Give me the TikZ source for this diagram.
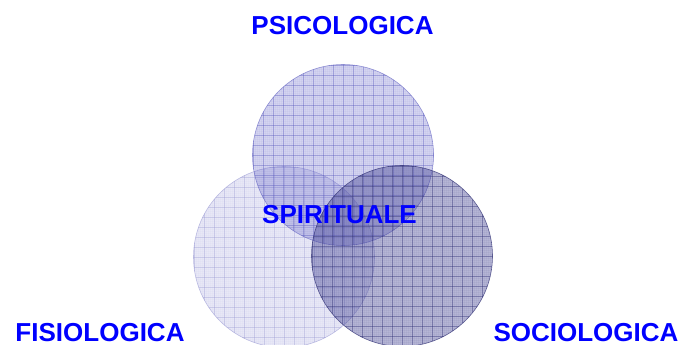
\documentclass[tikz,border=0pt]{standalone}
\usepackage{fontspec}
\setmainfont{Liberation Sans}
\usetikzlibrary{calc}
\begin{document}
\begin{tikzpicture}[x=1pt,y=1pt,
  lbl/.style={font=\fontsize{26}{28}\selectfont\bfseries, text=blue, inner sep=0pt, anchor=base},
]
\useasboundingbox (0,0) rectangle (682,345);
\definecolor{cTop}{RGB}{100,100,200}
\definecolor{cLeft}{RGB}{150,150,215}
\definecolor{cRight}{RGB}{70,70,150}
\definecolor{gTop}{RGB}{90,90,190}
\definecolor{gLeft}{RGB}{150,150,210}
\definecolor{gRight}{RGB}{40,40,110}
% y measured from bottom: y = 345 - yimg
\coordinate (L) at (284,88);
\coordinate (T) at (343,190);
\coordinate (R) at (402,89);
\def\rad{90.5}
\newcommand\gridin[3]{% center, color, opacity
  \begin{scope}
  \clip (#1) circle (\rad);
  \foreach \k in {-48,...,48} {
    \draw[#2, opacity=#3*0.12, line width=0.25pt] ($(#1)+(\k*2,-92)$) -- ++(0,184);
    \draw[#2, opacity=#3*0.12, line width=0.25pt] ($(#1)+(-92,\k*2)$) -- ++(184,0);
  }
  \foreach \k in {-9,...,9} {
    \draw[#2, opacity=#3, line width=0.6pt] ($(#1)+(\k*10,-92)$) -- ++(0,184);
    \draw[#2, opacity=#3, line width=0.6pt] ($(#1)+(-92,\k*10)$) -- ++(184,0);
  }
  \end{scope}}
% left circle
\fill[cLeft, opacity=0.22] (L) circle (\rad);
\gridin{L}{gLeft}{0.35}
\draw[gLeft, opacity=0.6, line width=0.6pt] (L) circle (\rad);
% top circle
\fill[cTop, opacity=0.28] (T) circle (\rad);
\gridin{T}{gTop}{0.38}
\draw[gTop, opacity=0.6, line width=0.6pt] (T) circle (\rad);
% right circle
\fill[cRight, opacity=0.4] (R) circle (\rad);
\gridin{R}{gRight}{0.38}
\draw[gRight, opacity=0.7, line width=0.6pt] (R) circle (\rad);
% labels
\node[lbl] (psi) at (342.5,310) {PSICOLOGICA};
\node[lbl] (spi) at (339.5,121) {SPIRITUALE};
\node[lbl] (fis) at (100,4) {FISIOLOGICA};
\node[lbl] (soc) at (586,4) {SOCIOLOGICA};
\end{tikzpicture}
\end{document}
